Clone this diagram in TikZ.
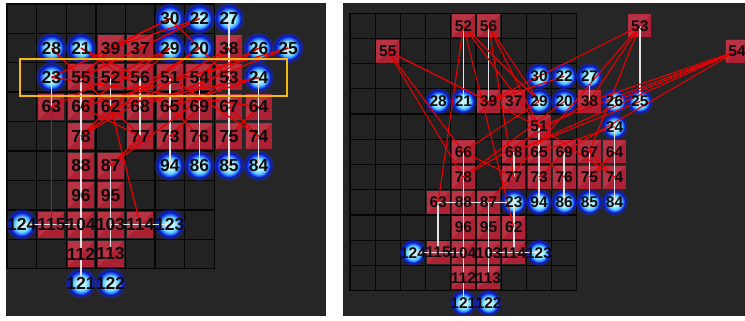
\documentclass[tikz,border=0pt]{standalone}
\usepackage{fontspec}
\setmainfont{Liberation Sans}
\definecolor{panelbg}{RGB}{38,38,38}
\definecolor{cellbg}{RGB}{34,34,34}
\definecolor{gridc}{RGB}{6,6,6}
\definecolor{sqbase}{RGB}{172,34,52}
\definecolor{sqhi}{RGB}{205,80,95}
\definecolor{redline}{RGB}{232,0,0}
\definecolor{whiteline}{RGB}{228,228,228}
\definecolor{yel}{RGB}{245,185,20}
\definecolor{bcA}{RGB}{190,245,255}
\definecolor{bcB}{RGB}{90,200,255}
\definecolor{bcC}{RGB}{30,80,240}
\definecolor{bcD}{RGB}{10,25,190}
\definecolor{glowc}{RGB}{20,40,230}
\definecolor{lbl}{RGB}{12,12,12}
\pgfdeclareradialshading{bball}{\pgfpoint{0bp}{0bp}}{color(0bp)=(bcA); color(8bp)=(bcA); color(16bp)=(bcB); color(21bp)=(bcC); color(25bp)=(bcD); color(50bp)=(bcD)}
\tikzset{
  rsqL/.style={rectangle, minimum size=26pt, inner sep=0pt, fill=sqbase,
    path picture={\fill[sqhi, opacity=0.35] (path picture bounding box.north west) -- (path picture bounding box.north east) -- (path picture bounding box.south west) -- cycle;}},
  rsqR/.style={rsqL, minimum size=23pt},
  bcL/.style={circle, minimum size=25pt, inner sep=0pt, shading=bball, draw=bcD, line width=0.8pt},
  bcR/.style={bcL, minimum size=22pt},
  glowL/.style={fill=glowc, opacity=0.45},
  rl/.style={draw=redline, line width=1.3pt},
  wl/.style={draw=whiteline, line width=1.7pt},
  lblL/.style={inner sep=0pt, text=lbl, font=\fontsize{17.5}{17.5}\selectfont\bfseries},
  lblR/.style={inner sep=0pt, text=lbl, font=\fontsize{15.5}{15.5}\selectfont\bfseries},
  gridl/.style={draw=gridc, line width=1.4pt},
  hilite/.style={draw=yel, line width=2.8pt, rectangle, inner sep=0pt}
}
\begin{document}
\begin{tikzpicture}[x=1pt,y=-1pt]
\useasboundingbox (0,0) rectangle (745,321);
\fill[white] (0,0) rectangle (745,321);
% panels
\fill[panelbg] (6,3) rectangle (326,316);
\fill[panelbg] (343,3) rectangle (745,316);
% left grid
\fill[cellbg] (7,4) rectangle (214.2,268.6);
\foreach \i in {0,...,7} \draw[gridl] ({7+29.6*\i},4) -- ({7+29.6*\i},268.6);
\foreach \j in {0,...,9} \draw[gridl] (7,{4+29.4*\j}) -- (214.2,{4+29.4*\j});
% right grid
\fill[cellbg] (350,13.3) rectangle (576.8,290.5);
\foreach \i in {0,...,9} \draw[gridl, line width=1.2pt] ({350+25.2*\i},13.3) -- ({350+25.2*\i},290.5);
\foreach \j in {0,...,11} \draw[gridl, line width=1.2pt] (350,{13.3+25.2*\j}) -- (576.8,{13.3+25.2*\j});

% ---------- LEFT nodes ----------
\foreach \n/\c/\r in {39/3/1,37/4/1,38/7/1,55/2/2,52/3/2,56/4/2,51/5/2,54/6/2,53/7/2,63/1/3,66/2/3,62/3/3,68/4/3,65/5/3,69/6/3,67/7/3,64/8/3,78/2/4,77/4/4,73/5/4,76/6/4,75/7/4,74/8/4,88/2/5,87/3/5,96/2/6,95/3/6,115/1/7,104/2/7,103/3/7,114/4/7,112/2/8,113/3/8}
  \node[rsqL] (L\n) at ({21.8+29.6*\c},{18.7+29.4*\r}) {};
\foreach \n/\c/\r in {30/5/0,22/6/0,27/7/0,28/1/1,21/2/1,29/5/1,20/6/1,26/8/1,25/9/1,23/1/2,24/8/2,94/5/5,86/6/5,85/7/5,84/8/5,124/0/7,123/5/7,121/2/9,122/3/9}
  {\fill[glowL] ({21.8+29.6*\c},{18.7+29.4*\r}) circle (15);
   \node[bcL] (L\n) at ({21.8+29.6*\c},{18.7+29.4*\r}) {};}

% ---------- RIGHT nodes ----------
\foreach \n/\c/\r in {52/4/0,56/5/0,53/11/0,55/1/1,39/5/3,37/6/3,38/9/3,51/7/4,66/4/5,68/6/5,65/7/5,69/8/5,67/9/5,64/10/5,78/4/6,77/6/6,73/7/6,76/8/6,75/9/6,74/10/6,63/3/7,88/4/7,87/5/7,96/4/8,95/5/8,62/6/8,115/3/9,104/4/9,103/5/9,114/6/9,112/4/10,113/5/10}
  \node[rsqR] (R\n) at ({362.6+25.2*\c},{25.9+25.2*\r}) {};
\node[rsqR] (R54) at (737,51.1) {};
\foreach \n/\c/\r in {30/7/2,22/8/2,27/9/2,28/3/3,21/4/3,29/7/3,20/8/3,26/10/3,25/11/3,24/10/4,23/6/7,94/7/7,86/8/7,85/9/7,84/10/7,124/2/9,123/7/9,121/4/11,122/5/11}
  {\fill[glowL] ({362.6+25.2*\c},{25.9+25.2*\r}) circle (13);
   \node[bcR] (R\n) at ({362.6+25.2*\c},{25.9+25.2*\r}) {};}

% ---------- white lines ----------
\foreach \a/\b in {23/63,55/121,52/62,56/77,51/94,54/86,27/85,24/84,87/113,124/104,103/123}
  \draw[wl] (L\a.center) -- (L\b.center);
\foreach \a/\b in {52/21,56/39,27/38,53/25,66/121,68/77,51/94,69/86,67/85,24/84,87/113,63/115,63/23,23/114,124/104,103/123}
  \draw[wl, line width=1.5pt] (R\a.center) -- (R\b.center);

% ---------- red lines ----------
\foreach \a/\b in {55/39,55/51,52/63,52/29,52/51,56/29,56/51,30/39,22/39,20/78,29/66,53/30,54/38,54/26,54/51,51/74,24/65,66/77,78/38,65/76,69/73,67/74,64/75,62/114,77/87,25/68,30/23,22/55,28/62,21/65,23/64,25/66,24/62,63/115,26/65,20/62,37/55,21/56,39/55,62/78,62/77,53/87}
  \draw[rl] (L\a.center) -- (L\b.center);
\foreach \a/\b in {55/39,55/51,55/66,55/78,52/63,52/62,52/29,52/51,56/29,56/51,56/77,30/39,22/39,20/78,29/66,53/30,53/38,53/67,53/87,54/38,54/26,54/51,54/69,54/68,51/74,24/65,66/77,78/38,65/76,69/73,67/74,64/75,25/68}
  \draw[rl, line width=1.1pt] (R\a.center) -- (R\b.center);

% highlight
\node[hilite, minimum width=267pt, minimum height=37pt] (hl) at (153.5,77.5) {};

% ---------- labels ----------
\foreach \n in {39,37,38,55,52,56,51,54,53,63,66,62,68,65,69,67,64,78,77,73,76,75,74,88,87,96,95,115,104,103,114,112,113,30,22,27,28,21,29,20,26,25,23,24,94,86,85,84,124,123,121,122}
  {\node[lblL] (tL\n) at (L\n) {\n};
   \node[lblR] (tR\n) at (R\n) {\n};}
\end{tikzpicture}
\end{document}
